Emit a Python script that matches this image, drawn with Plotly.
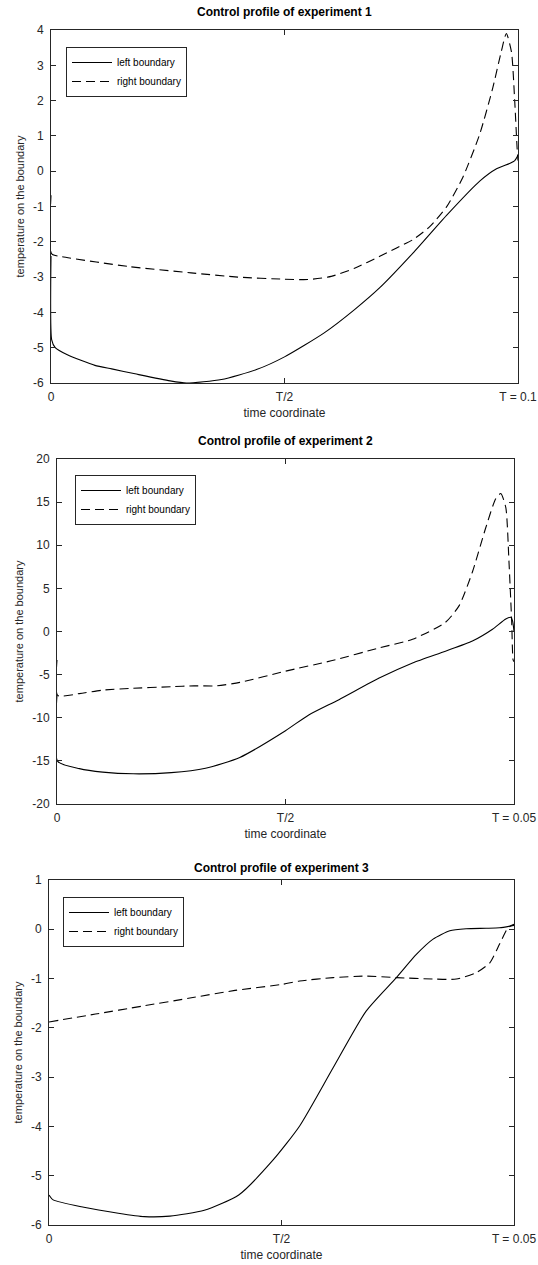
import plotly.graph_objects as go

W, H = 538, 1265

# ---------------- data (t as fraction of T) ----------------
T1 = 0.1
t1_left = [0, 0.0015, 0.009, 0.035, 0.094, 0.13, 0.18, 0.255, 0.29, 0.365, 0.44, 0.5, 0.585, 0.65, 0.704,
           0.775, 0.847, 0.918, 0.954, 0.982, 0.993, 1.0]
v1_left = [-2.4, -4.78, -5.0, -5.2, -5.5, -5.6, -5.74, -5.94, -6.0, -5.9, -5.62, -5.26, -4.58, -3.92, -3.3,
           -2.32, -1.25, -0.28, 0.07, 0.22, 0.3, 0.45]
t1_right = [0, 0.0015, 0.023, 0.166, 0.3, 0.4, 0.5, 0.55, 0.6, 0.65, 0.704, 0.739, 0.775, 0.811, 0.847,
            0.882, 0.918, 0.946, 0.964, 0.975, 0.986, 0.993, 0.998, 1.0]
v1_right = [-0.68, -2.34, -2.42, -2.7, -2.88, -3.0, -3.06, -3.07, -2.98, -2.75, -2.41, -2.18, -1.94, -1.57,
            -1.01, -0.17, 1.05, 2.36, 3.38, 3.9, 3.38, 1.98, 0.67, 0.3]

T2 = 0.05
t2_left = [0, 0.0015, 0.049, 0.1, 0.167, 0.25, 0.325, 0.4, 0.5, 0.55, 0.617, 0.705, 0.778, 0.85, 0.909,
           0.953, 0.982, 0.993, 0.997, 1.0]
v2_left = [-7.4, -15.05, -15.9, -16.3, -16.5, -16.36, -15.85, -14.6, -11.5, -9.7, -7.9, -5.4, -3.65,
           -2.28, -1.1, 0.27, 1.45, 1.65, 1.2, 0.0]
t2_right = [0, 0.0015, 0.049, 0.1, 0.158, 0.25, 0.3, 0.35, 0.4, 0.5, 0.6, 0.705, 0.778, 0.85, 0.88, 0.909,
            0.938, 0.96, 0.971, 0.982, 0.989, 0.995, 0.998, 1.0]
v2_right = [-3.3, -7.4, -7.2, -6.8, -6.6, -6.4, -6.3, -6.3, -5.9, -4.6, -3.4, -1.9, -0.9, 1.06, 3.0, 6.9,
            12.0, 15.4, 16.0, 14.4, 8.1, 1.06, -3.3, -3.5]

T3 = 0.05
t3_left = [0, 0.009, 0.075, 0.149, 0.205, 0.26, 0.334, 0.408, 0.482, 0.539, 0.611, 0.682, 0.747, 0.79,
           0.826, 0.862, 0.897, 0.94, 0.969, 1.0]
v3_left = [-5.39, -5.49, -5.64, -5.76, -5.83, -5.82, -5.7, -5.39, -4.68, -3.99, -2.81, -1.66, -0.98, -0.51,
           -0.2, -0.03, 0.01, 0.02, 0.03, 0.08]
t3_right = [0, 0.1, 0.2, 0.3, 0.4, 0.5, 0.539, 0.611, 0.682, 0.747, 0.826, 0.876, 0.919, 0.948, 0.969,
            0.987, 1.0]
v3_right = [-1.88, -1.72, -1.56, -1.4, -1.24, -1.12, -1.05, -0.98, -0.95, -0.98, -1.01, -1.01, -0.88,
            -0.68, -0.3, 0.03, 0.1]

titles = ["Control profile of experiment 1", "Control profile of experiment 2", "Control profile of experiment 3"]
x_ticktext = [["0", "T/2", "T = 0.1"], ["0", "T/2", "T = 0.05"], ["0", "T/2", "T = 0.05"]]
y_tickvals = [[-6, -5, -4, -3, -2, -1, 0, 1, 2, 3, 4],
              [-20, -15, -10, -5, 0, 5, 10, 15, 20],
              [-6, -5, -4, -3, -2, -1, 0, 1]]
y_ranges = [[-6, 4], [-20, 20], [-6, 1]]
Ts = [T1, T2, T3]
series = [(t1_left, v1_left, t1_right, v1_right),
          (t2_left, v2_left, t2_right, v2_right),
          (t3_left, v3_left, t3_right, v3_right)]

# ---------------- layout geometry (pixels) ----------------
boxes = [(51, 518, 30, 383), (57, 514, 459, 804), (49, 514, 880, 1225)]
title_y = [12, 441, 868]
legend_pos = [(66, 47), (75, 475), (63, 897)]

FONT = "Liberation Sans, Arial, Helvetica, sans-serif"
AX = "#262626"

fig = go.Figure()
layout = dict(width=W, height=H, margin=dict(l=0, r=0, t=0, b=0),
              plot_bgcolor="white", paper_bgcolor="white",
              font=dict(family=FONT, size=11, color=AX), annotations=[])

for i in range(3):
    T = Ts[i]
    tl, vl, tr, vr = series[i]
    xa = "x" if i == 0 else f"x{i+1}"
    ya = "y" if i == 0 else f"y{i+1}"
    lg = "legend" if i == 0 else f"legend{i+1}"
    fig.add_trace(go.Scatter(x=[f * T for f in tl], y=vl, mode="lines", name="left boundary",
                             line=dict(color="black", width=1.1, shape="spline", smoothing=0.6),
                             xaxis=xa, yaxis=ya, legend=lg))
    fig.add_trace(go.Scatter(x=[f * T for f in tr], y=vr, mode="lines", name="right boundary",
                             line=dict(color="black", width=1.1, dash="9px,5px", shape="spline", smoothing=0.6),
                             xaxis=xa, yaxis=ya, legend=lg))
    l, r, t, b = boxes[i]
    xkey = "xaxis" if i == 0 else f"xaxis{i+1}"
    ykey = "yaxis" if i == 0 else f"yaxis{i+1}"
    layout[xkey] = dict(domain=[l / W, r / W], range=[0, T], anchor=ya,
                        tickvals=[0, T / 2, T], ticktext=x_ticktext[i],
                        ticks="inside", ticklen=5, tickcolor=AX, showline=True, linecolor=AX, linewidth=1,
                        mirror="ticks", showgrid=False, zeroline=False, automargin=False,
                        ticklabelstandoff=3,
                        tickfont=dict(size=12, color=AX),
                        title=dict(text="time coordinate", standoff=5, font=dict(size=12, color=AX)))
    layout[ykey] = dict(domain=[1 - b / H, 1 - t / H], range=y_ranges[i], anchor=xa,
                        tickvals=y_tickvals[i], ticktext=[str(v) for v in y_tickvals[i]],
                        ticks="inside", ticklen=5, tickcolor=AX, showline=True, linecolor=AX, linewidth=1,
                        mirror="ticks", showgrid=False, zeroline=False, automargin=False,
                        ticklabelstandoff=4,
                        tickfont=dict(size=12, color=AX),
                        title=dict(text="temperature on the boundary", standoff=6, font=dict(size=11, color=AX)))
    lx, ly = legend_pos[i]
    layout[lg] = dict(x=lx / W, y=1 - ly / H, xanchor="left", yanchor="top", bgcolor="white",
                      bordercolor=AX, borderwidth=1, font=dict(size=10, color="black", family=FONT),
                      tracegroupgap=0, itemwidth=40)
    layout["annotations"].append(dict(text=f"<b>{titles[i]}</b>", x=(l + r) / 2 / W, y=1 - title_y[i] / H,
                                      xref="paper", yref="paper", showarrow=False,
                                      font=dict(size=12, color="black", family=FONT),
                                      xanchor="center", yanchor="middle"))

fig.update_layout(**layout)
fig.write_html("out.html")
